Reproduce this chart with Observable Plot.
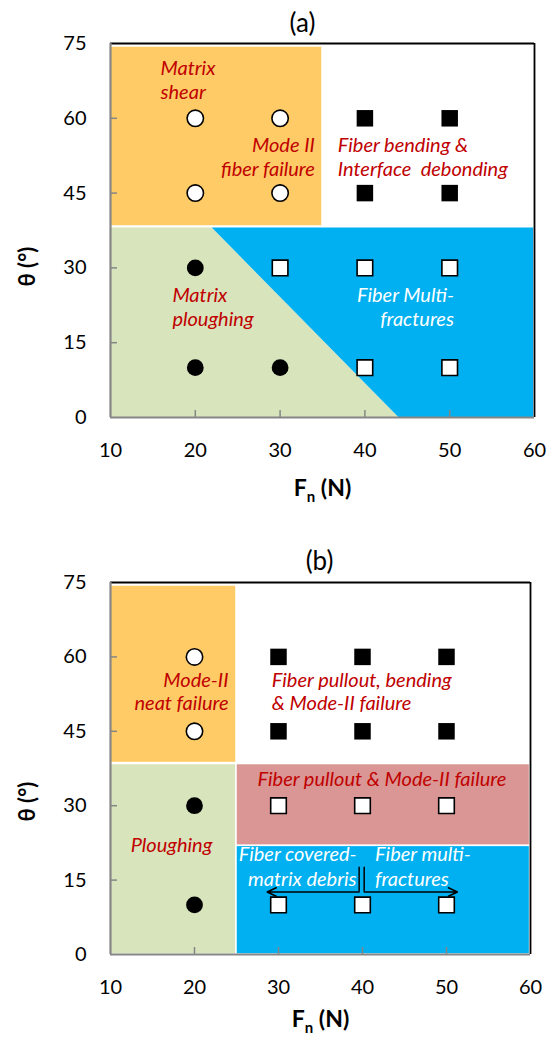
<!DOCTYPE html>
<html><head><meta charset="utf-8">
<script src="https://cdn.jsdelivr.net/npm/d3@7"></script>
<script src="https://cdn.jsdelivr.net/npm/@observablehq/plot@0.6"></script>
<style>body{margin:0;background:#fff;} svg{display:block;}</style>
</head><body><div id="c"></div>
<script>
// ---------- shared ----------
const xTicks = [10, 20, 30, 40, 50, 60];
const yTicks = [0, 15, 30, 45, 60, 75];
const innerX = [20, 30, 40, 50];
const innerY = [15, 30, 45, 60];

// ---------- panel (a) ----------
const aPoints = [
  {fn: 20, theta: 60, kind: "openCircle"}, {fn: 30, theta: 60, kind: "openCircle"},
  {fn: 20, theta: 45, kind: "openCircle"}, {fn: 30, theta: 45, kind: "openCircle"},
  {fn: 40, theta: 60, kind: "filledSquare"}, {fn: 50, theta: 60, kind: "filledSquare"},
  {fn: 40, theta: 45, kind: "filledSquare"}, {fn: 50, theta: 45, kind: "filledSquare"},
  {fn: 20, theta: 30, kind: "filledCircle"}, {fn: 20, theta: 10, kind: "filledCircle"},
  {fn: 30, theta: 10, kind: "filledCircle"},
  {fn: 30, theta: 30, kind: "openSquare"}, {fn: 40, theta: 30, kind: "openSquare"},
  {fn: 50, theta: 30, kind: "openSquare"}, {fn: 40, theta: 10, kind: "openSquare"},
  {fn: 50, theta: 10, kind: "openSquare"}
];
const aRects = [
  {x1: 10, x2: 35, y1: 38.3, y2: 74.4, fill: "#FFCB66"}
];
const aGreen = [{x: 10, y1: 0, y2: 38}, {x: 22, y1: 0, y2: 38}, {x: 44, y1: 0, y2: 0}];
const aBlue = [{x: 22, y1: 38, y2: 38}, {x: 44, y1: 0, y2: 38}, {x: 59.9, y1: 0, y2: 38}];
const aNotes = [
  {text: "Matrix", x: 15.9, y: 68.6, anchor: "start", color: "#C00000"},
  {text: "shear", x: 15.9, y: 63.8, anchor: "start", color: "#C00000"},
  {text: "Mode II", x: 34.1, y: 53.2, anchor: "end", color: "#C00000"},
  {text: "fiber failure", x: 34.1, y: 48.4, anchor: "end", color: "#C00000"},
  {text: "Fiber bending &", x: 36.8, y: 53.2, anchor: "start", color: "#C00000"},
  {text: "Interface\u00a0 debonding", x: 36.8, y: 48.4, anchor: "start", color: "#C00000"},
  {text: "Matrix", x: 17.3, y: 23.1, anchor: "start", color: "#C00000"},
  {text: "ploughing", x: 17.3, y: 18.3, anchor: "start", color: "#C00000"},
  {text: "Fiber Multi-", x: 50.5, y: 23.1, anchor: "end", color: "#FFFFFF"},
  {text: "fractures", x: 50.5, y: 18.3, anchor: "end", color: "#FFFFFF"}
];

// ---------- panel (b) ----------
const bPoints = [
  {fn: 20, theta: 60, kind: "openCircle"}, {fn: 20, theta: 45, kind: "openCircle"},
  {fn: 30, theta: 60, kind: "filledSquare"}, {fn: 40, theta: 60, kind: "filledSquare"},
  {fn: 50, theta: 60, kind: "filledSquare"}, {fn: 30, theta: 45, kind: "filledSquare"},
  {fn: 40, theta: 45, kind: "filledSquare"}, {fn: 50, theta: 45, kind: "filledSquare"},
  {fn: 20, theta: 30, kind: "filledCircle"}, {fn: 20, theta: 10, kind: "filledCircle"},
  {fn: 30, theta: 30, kind: "openSquare"}, {fn: 40, theta: 30, kind: "openSquare"},
  {fn: 50, theta: 30, kind: "openSquare"}, {fn: 30, theta: 10, kind: "openSquare"},
  {fn: 40, theta: 10, kind: "openSquare"}, {fn: 50, theta: 10, kind: "openSquare"}
];
const bRects = [
  {x1: 10, x2: 25, y1: 38.6, y2: 74.4, fill: "#FFCB66"},
  {x1: 10, x2: 25, y1: 0, y2: 38.4, fill: "#D8E4BC"},
  {x1: 25, x2: 59.95, y1: 21.9, y2: 38.4, fill: "#DA9694"},
  {x1: 25, x2: 59.95, y1: 0, y2: 21.9, fill: "#00B0F0"}
];
const bNotes = [
  {text: "Mode-II", x: 24.05, y: 54.0, anchor: "end", color: "#C00000"},
  {text: "neat failure", x: 24.05, y: 49.2, anchor: "end", color: "#C00000"},
  {text: "Fiber pullout, bending", x: 29.2, y: 54.0, anchor: "start", color: "#C00000"},
  {text: "& Mode-II failure", x: 29.2, y: 49.2, anchor: "start", color: "#C00000"},
  {text: "Fiber pullout & Mode-II failure", x: 27.5, y: 33.9, anchor: "start", color: "#C00000"},
  {text: "Ploughing", x: 12.4, y: 20.6, anchor: "start", color: "#C00000"},
  {text: "Fiber covered-", x: 39.3, y: 18.8, anchor: "end", color: "#FFFFFF"},
  {text: "matrix debris", x: 39.3, y: 13.8, anchor: "end", color: "#FFFFFF"},
  {text: "Fiber multi-", x: 41.5, y: 18.8, anchor: "start", color: "#FFFFFF"},
  {text: "fractures", x: 41.5, y: 13.8, anchor: "start", color: "#FFFFFF"}
];
const bArrows = [
  {x1: 39.6, y1: 12.6, x2: 28.65, y2: 12.6},
  {x1: 40.2, y1: 12.6, x2: 51.3, y2: 12.6}
];
const bStems = [
  {x: 39.6, y1: 12.6, y2: 17.6},
  {x: 40.2, y1: 12.6, y2: 17.6}
];

const GRAY = "#868686";

function dots(points) {
  const f = k => points.filter(d => d.kind === k);
  return [
    Plot.dot(f("openCircle"), {x: "fn", y: "theta", r: 8.2, symbol: "circle", fill: "white", stroke: "black", strokeWidth: 1.6}),
    Plot.dot(f("filledCircle"), {x: "fn", y: "theta", r: 8.4, symbol: "circle", fill: "black"}),
    Plot.dot(f("openSquare"), {x: "fn", y: "theta", r: 8.8, symbol: "square", fill: "white", stroke: "black", strokeWidth: 1.6}),
    Plot.dot(f("filledSquare"), {x: "fn", y: "theta", r: 9.3, symbol: "square", fill: "black"})
  ];
}

function notes(list) {
  return ["start", "end"].map(a => Plot.text(list.filter(d => d.anchor === a), {
    x: "x", y: "y", text: "text", textAnchor: a, fill: d => d.color,
    fontStyle: "italic", fontSize: 20, lineAnchor: "bottom"
  }));
}

function panel(cfg) {
  const plotH = cfg.height - cfg.marginTop - cfg.marginBottom;
  const tY = 7 * 75 / plotH;
  const tX = 7 * 50 / (555 - 110 - cfg.marginRight);
  const svg = Plot.plot({
    width: 555, height: cfg.height,
    marginLeft: 110, marginRight: cfg.marginRight, marginTop: cfg.marginTop, marginBottom: cfg.marginBottom,
    style: {fontFamily: "Lato, sans-serif", fontSize: "20px", background: "white", overflow: "visible"},
    x: {domain: [10, 60]},
    y: {domain: [0, 75]},
    marks: [
      ...cfg.backgrounds,
      Plot.rect(cfg.rects, {x1: "x1", x2: "x2", y1: "y1", y2: "y2", fill: d => d.fill, stroke: "white", strokeWidth: 1.5}),
      ...(cfg.extra || []),
      ...dots(cfg.points),
      ...notes(cfg.notes),
      Plot.ruleY([75], {stroke: "black", strokeWidth: 1.8}),
      Plot.ruleX([60], {stroke: "black", strokeWidth: 1.8}),
      Plot.ruleX(innerX, {y1: 0, y2: tY, stroke: GRAY, strokeWidth: 1.5}),
      Plot.ruleY(innerY, {x1: 10, x2: 10 + tX, stroke: GRAY, strokeWidth: 1.5}),
      Plot.ruleX([10], {stroke: GRAY, strokeWidth: 2.2}),
      Plot.ruleY([0], {stroke: GRAY, strokeWidth: 2.2}),
      Plot.axisX({ticks: xTicks, tickSize: 0, tickPadding: 25, label: null, fill: "black", fontSize: 20}),
      Plot.axisY({ticks: yTicks, tickSize: 0, tickPadding: 24, label: null, fill: "black", fontSize: 20}),
      Plot.text([cfg.title], {frameAnchor: "top", lineAnchor: "middle", dx: cfg.titleDx, dy: cfg.titleDy, fontSize: 26, fill: "black"}),
      Plot.text(["θ (°)"], {frameAnchor: "left", lineAnchor: "middle", rotate: -90, dx: -83, dy: cfg.ylabelDy, fontSize: 22, fontWeight: "bold", fill: "black"}),
      Plot.text(["Fn (N)"], {frameAnchor: "bottom", lineAnchor: "middle", dy: cfg.xlabelDy, fontSize: 23, fontWeight: "bold", fill: "black"})
    ]
  });
  d3.select(svg).selectAll("text").filter(function () { return this.textContent === "Fn (N)"; })
    .each(function () {
      const t = d3.select(this);
      t.text(null);
      t.append("tspan").text("F");
      t.append("tspan").attr("font-size", "15px").attr("dy", 6).text("n");
      t.append("tspan").attr("dy", -6).text(" (N)");
    });
  return svg;
}

const svgA = panel({
  height: 520, marginTop: 43, marginBottom: 103, marginRight: 21,
  title: "(a)", titleDx: -20, titleDy: -20, xlabelDy: 71, ylabelDy: 56,
  rects: aRects, points: aPoints, notes: aNotes,
  backgrounds: [
    Plot.areaY(aGreen, {x: "x", y1: "y1", y2: "y2", fill: "#D8E4BC"}),
    Plot.areaY(aBlue, {x: "x", y1: "y1", y2: "y2", fill: "#00B0F0"})
  ]
});
const svgB = panel({
  height: 522, marginTop: 62, marginBottom: 88, marginRight: 25,
  title: "(b)", titleDx: -1, titleDy: -21, xlabelDy: 65, ylabelDy: 53,
  rects: bRects, points: bPoints, notes: bNotes,
  backgrounds: [],
  extra: [
    Plot.ruleX(bStems, {x: "x", y1: "y1", y2: "y2", stroke: "black", strokeWidth: 1.5}),
    Plot.arrow(bArrows, {x1: "x1", y1: "y1", x2: "x2", y2: "y2", stroke: "black", strokeWidth: 1.5, headLength: 10, headAngle: 50})
  ]
});
document.getElementById("c").append(svgA, svgB);
</script>
</body></html>
